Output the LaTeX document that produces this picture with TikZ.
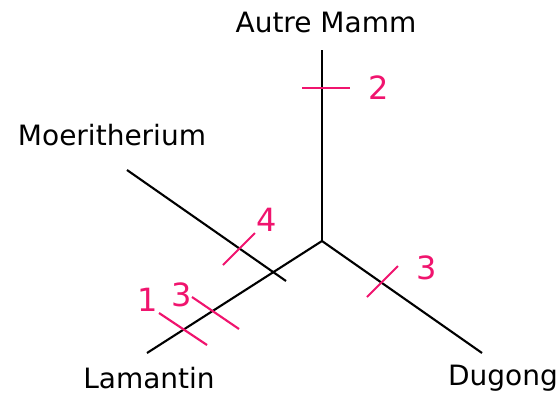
\documentclass[tikz,border=0pt]{standalone}
\usepackage{fontspec}
\setmainfont{DejaVu Sans}
\definecolor{tickpink}{RGB}{240,20,110}
\begin{document}
\begin{tikzpicture}[x=1pt,y=-1pt,
  branch/.style={draw=black,line width=2.1pt},
  tick/.style={draw=tickpink,line width=2.1pt},
  taxon/.style={font=\fontsize{28}{31}\selectfont,inner sep=0pt},
  num/.style={text=tickpink,font=\fontsize{32}{36}\selectfont,inner sep=0pt}]
\useasboundingbox (0,0) rectangle (560,394);
% nodes of the tree
\coordinate (c) at (322,241);
\coordinate (top) at (322,50);
\coordinate (dug) at (482,353);
\coordinate (lam) at (147,353);
\coordinate (moe) at (127,170);
\coordinate (moeend) at (286,281);
% branches
\draw[branch] (c) -- (top);
\draw[branch] (c) -- (dug);
\draw[branch] (c) -- (lam);
\draw[branch] (moe) -- (moeend);
% ticks
\coordinate (t2a) at (302,88); \coordinate (t2b) at (350,88);
\draw[tick] (t2a) -- (t2b);
\coordinate (t3a) at (367,297); \coordinate (t3b) at (398,266);
\draw[tick] (t3a) -- (t3b);
\coordinate (t4a) at (223,265); \coordinate (t4b) at (255,233);
\draw[tick] (t4a) -- (t4b);
\coordinate (t3la) at (192,297); \coordinate (t3lb) at (239,329);
\draw[tick] (t3la) -- (t3lb);
\coordinate (t1a) at (159,313); \coordinate (t1b) at (207,345);
\draw[tick] (t1a) -- (t1b);
% labels
\node[taxon] (lA) at (326,22) {Autre Mamm};
\node[taxon] (lM) at (112,135) {Moeritherium};
\node[taxon] (lL) at (149,378) {Lamantin};
\node[taxon] (lD) at (503,378) {Dugong};
\node[num] (n2) at (379,88) {2};
\node[num] (n3) at (427,268) {3};
\node[num] (n4) at (267,220) {4};
\node[num] (n3l) at (182,295) {3};
\node[num] (n1) at (148,300) {1};
\end{tikzpicture}
\end{document}
